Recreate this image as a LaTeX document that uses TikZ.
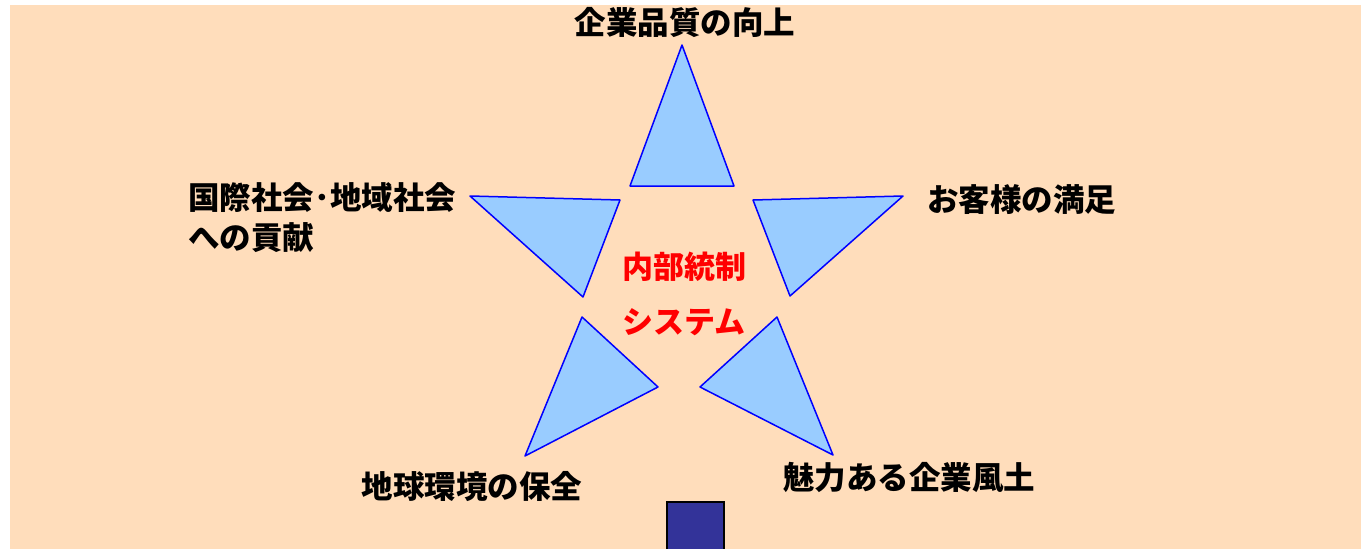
\documentclass[tikz,border=0pt]{standalone}
\usepackage{fontspec}
\newfontfamily\jp{Noto Sans CJK JP}
\definecolor{peach}{HTML}{FFDDBB}
\definecolor{petalfill}{HTML}{99CCFF}
\definecolor{navy}{HTML}{333399}
\begin{document}
\begin{tikzpicture}[x=1pt,y=-1pt,thick,
    petal/.style={draw=blue,fill=petalfill,line width=1.5pt,line join=round},
    goal node/.style={inner sep=0pt,font=\jp\bfseries\fontsize{31.5}{40}\selectfont},
    core node/.style={inner sep=0pt,text=red,font=\jp\bfseries\fontsize{31}{39}\selectfont}]
                \useasboundingbox (0,0) rectangle (1361,549);
                \fill[peach] (10,5) rectangle (1361,549);

                % five petals of the star
                \draw[petal] (682,45) -- (734,186) -- (630,186) -- cycle;
                \draw[petal] (470,196) -- (620,200) -- (583,297) -- cycle;
                \draw[petal] (753,200) -- (903,196) -- (790,296) -- cycle;
                \draw[petal] (582,317) -- (658,387) -- (525,456) -- cycle;
                \draw[petal] (777,317) -- (700,387) -- (833,455) -- cycle;

                \node[core node] at (684,267) (core1) {内部統制};
                \node[core node] at (684,322) (core2) {システム};

                \node[goal node] at (685,22) (quality) {企業品質の向上};
                \node[goal node,anchor=west,align=left] at (188,218) (society) {国際社会･地域社会\\への貢献};
                \node[goal node,anchor=west] at (927,200) (customer) {お客様の満足};
                \node[goal node] at (472,487) (earth) {地球環境の保全};
                \node[goal node] at (909,477) (culture) {魅力ある企業風土};

                \draw[fill=navy,draw=black,line width=1.5pt] (667,502) rectangle (724,560);
            \end{tikzpicture}
\end{document}
